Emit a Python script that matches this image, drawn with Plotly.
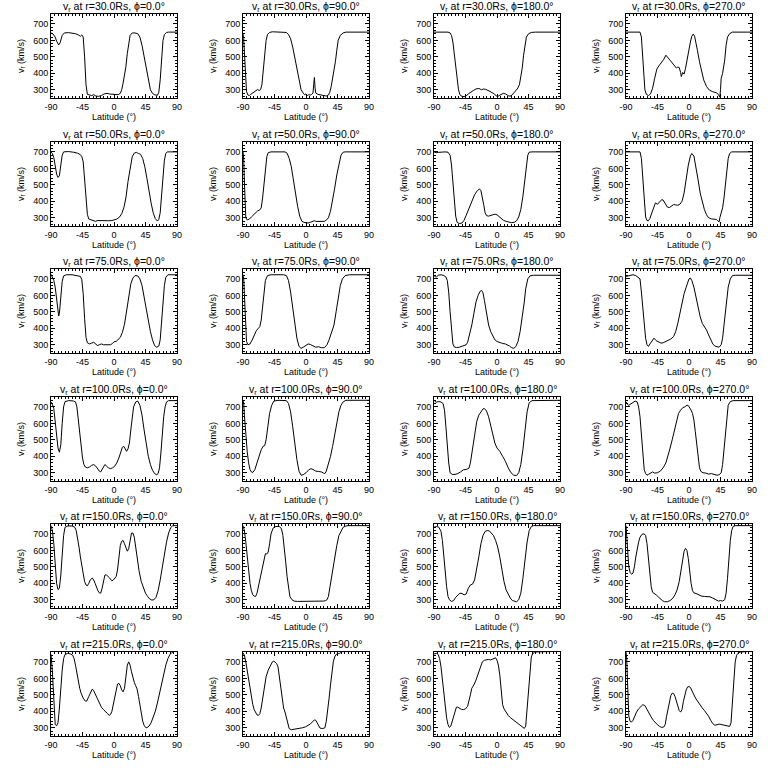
import plotly.graph_objects as go
from plotly.subplots import make_subplots

radii = [30.0, 50.0, 75.0, 100.0, 150.0, 215.0]
phis = [0.0, 90.0, 180.0, 270.0]
x_ticks = [-90, -45, 0, 45, 90]
y_ticks = [300, 400, 500, 600, 700]

# (latitude deg, v_r km/s)
pts_30_0 = [(-90,645),(-87,638),(-84,620),(-82,595),(-79,572),(-77,585),(-74,630),(-71,645),(-65,647),(-60,645),(-55,640),(-51,633),(-48,625),(-46,633),(-44,620),(-42,500),(-40,330),(-38,272),(-35,270),(-32,265),(-29,270),(-26,262),(-22,260),(-18,265),(-14,275),(-10,278),(-6,274),(-2,272),(2,272),(6,270),(9,278),(11,300),(13,340),(15,380),(17,440),(19,520),(21,590),(23,630),(26,645),(30,645),(34,640),(37,620),(40,570),(43,500),(46,420),(49,350),(52,300),(55,278),(58,270),(62,266),(64,285),(66,360),(68,500),(70,600),(72,635),(75,648),(78,650),(90,650)]
pts_30_90 = [(-90,640),(-89,610),(-88,530),(-87,430),(-86,340),(-85,290),(-83,268),(-81,265),(-79,272),(-76,282),(-73,292),(-71,298),(-69,302),(-67,295),(-65,300),(-63,330),(-61,420),(-59,520),(-57,600),(-55,635),(-52,648),(-48,652),(-40,652),(-32,652),(-28,648),(-25,635),(-22,610),(-19,560),(-16,490),(-13,420),(-10,350),(-7,300),(-4,280),(-2,270),(0,275),(2,265),(4,270),(6,268),(8,272),(10,280),(11,330),(12,375),(13,310),(14,280),(17,272),(21,270),(25,265),(29,262),(32,268),(34,285),(36,320),(39,390),(42,470),(44,540),(46,600),(49,630),(53,645),(57,650),(90,650)]
pts_30_180 = [(-90,650),(-80,652),(-70,650),(-67,645),(-65,630),(-63,590),(-61,520),(-59,440),(-57,360),(-55,300),(-53,270),(-50,260),(-47,258),(-44,262),(-41,275),(-38,285),(-34,295),(-30,305),(-26,308),(-22,300),(-19,305),(-16,302),(-13,298),(-10,290),(-7,282),(-4,276),(-1,262),(1,258),(3,265),(6,272),(9,278),(12,275),(14,268),(17,262),(20,262),(23,275),(26,290),(29,305),(32,330),(34,370),(36,430),(38,510),(40,580),(42,620),(45,640),(49,648),(55,650),(90,650)]
pts_30_270 = [(-90,650),(-80,650),(-70,650),(-68,620),(-67,560),(-65,420),(-63,300),(-61,272),(-58,265),(-55,275),(-52,310),(-49,370),(-46,425),(-43,445),(-40,460),(-36,485),(-33,510),(-30,495),(-27,475),(-24,460),(-21,445),(-18,432),(-16,438),(-14,435),(-12,405),(-11,380),(-9,405),(-7,395),(-5,430),(-3,480),(0,540),(2,590),(4,625),(6,638),(8,625),(10,590),(12,540),(15,470),(18,410),(21,360),(25,320),(29,298),(34,288),(39,282),(42,272),(44,255),(45,300),(46,370),(48,400),(51,480),(53,570),(55,620),(58,640),(62,650),(90,650)]

pts_50_0 = [(-90,700),(-88,690),(-86,665),(-84,620),(-82,565),(-80,545),(-78,555),(-76,620),(-74,680),(-72,700),(-65,702),(-58,698),(-52,692),(-48,683),(-46,672),(-44,640),(-42,540),(-40,420),(-38,320),(-36,292),(-33,287),(-30,285),(-28,280),(-26,278),(-24,283),(-20,282),(-15,282),(-8,282),(-3,283),(0,286),(4,292),(8,305),(11,325),(14,360),(17,420),(20,520),(23,610),(26,670),(29,693),(32,697),(35,690),(38,685),(41,660),(44,610),(47,540),(50,460),(53,390),(56,330),(59,295),(62,280),(64,290),(66,330),(68,430),(70,560),(72,650),(74,690),(76,700),(90,700)]
pts_50_90 = [(-90,700),(-89,660),(-88,520),(-87,380),(-86,300),(-84,287),(-81,292),(-78,305),(-75,318),(-72,332),(-69,342),(-66,348),(-64,360),(-62,420),(-60,520),(-58,610),(-56,670),(-54,695),(-50,700),(-40,700),(-30,700),(-27,692),(-24,660),(-21,610),(-18,540),(-15,450),(-12,370),(-9,310),(-6,280),(-3,272),(0,270),(3,268),(6,272),(9,278),(12,282),(14,278),(18,277),(22,278),(26,278),(29,285),(32,300),(35,340),(38,400),(41,480),(44,560),(47,630),(50,680),(53,698),(56,700),(90,700)]
pts_50_180 = [(-90,700),(-87,695),(-84,697),(-80,700),(-74,700),(-70,698),(-67,680),(-65,620),(-63,520),(-61,400),(-59,310),(-57,272),(-54,265),(-50,268),(-47,285),(-44,315),(-40,355),(-36,400),(-32,440),(-28,465),(-25,475),(-23,465),(-21,430),(-19,380),(-17,330),(-15,313),(-12,310),(-9,315),(-6,320),(-3,322),(0,318),(3,305),(6,295),(9,285),(13,278),(17,272),(21,270),(25,273),(28,282),(31,305),(34,350),(37,430),(40,540),(42,620),(44,680),(46,698),(50,700),(90,700)]
pts_50_270 = [(-90,700),(-80,700),(-70,700),(-68,660),(-66,520),(-64,380),(-62,305),(-60,283),(-58,282),(-56,295),(-53,335),(-50,375),(-48,390),(-45,382),(-42,395),(-39,410),(-37,408),(-34,385),(-31,365),(-28,362),(-25,370),(-22,380),(-19,378),(-16,376),(-13,382),(-10,400),(-7,450),(-4,540),(-1,620),(2,675),(4,690),(7,675),(10,610),(13,530),(16,450),(19,395),(22,350),(25,318),(28,300),(32,293),(36,292),(39,290),(41,282),(43,275),(44,300),(46,330),(48,360),(50,420),(52,510),(54,600),(56,660),(58,690),(61,700),(90,700)]

pts_75_0 = [(-90,728),(-88,712),(-86,690),(-84,650),(-82,565),(-80,495),(-79,475),(-78,490),(-76,590),(-74,685),(-72,718),(-68,725),(-60,725),(-52,720),(-48,715),(-46,695),(-44,610),(-42,460),(-40,345),(-38,312),(-35,305),(-32,310),(-29,315),(-26,305),(-24,295),(-21,300),(-18,305),(-15,300),(-10,300),(-5,300),(-2,308),(0,318),(3,320),(6,332),(9,345),(12,375),(15,425),(18,505),(21,600),(24,670),(27,705),(30,720),(34,718),(37,700),(40,660),(43,590),(46,510),(49,440),(52,380),(55,330),(58,295),(61,285),(64,292),(66,330),(68,440),(70,570),(72,660),(74,710),(77,725),(90,725)]
pts_75_90 = [(-90,725),(-89,700),(-88,610),(-87,480),(-86,380),(-85,320),(-83,300),(-80,305),(-77,328),(-74,355),(-71,385),(-68,400),(-66,410),(-64,450),(-62,540),(-60,620),(-58,690),(-55,720),(-50,725),(-40,725),(-32,725),(-28,720),(-25,690),(-22,620),(-19,520),(-16,420),(-13,340),(-10,290),(-7,278),(-4,285),(0,295),(3,305),(6,302),(10,292),(14,285),(18,288),(22,282),(26,282),(30,300),(33,330),(36,370),(40,420),(43,500),(46,590),(49,660),(52,700),(56,720),(62,725),(90,725)]
pts_75_180 = [(-90,720),(-87,710),(-84,722),(-80,725),(-76,720),(-73,712),(-71,690),(-69,620),(-67,500),(-65,380),(-63,305),(-61,287),(-58,283),(-54,285),(-50,292),(-47,296),(-44,300),(-42,315),(-39,360),(-36,420),(-33,490),(-30,560),(-27,600),(-24,625),(-22,630),(-20,615),(-18,570),(-15,490),(-12,420),(-9,380),(-6,350),(-3,330),(0,320),(4,312),(8,308),(12,305),(15,300),(18,292),(21,282),(24,278),(27,290),(30,320),(33,380),(36,460),(39,560),(41,640),(44,700),(47,718),(52,722),(90,722)]
pts_75_270 = [(-90,715),(-85,722),(-80,725),(-76,720),(-73,712),(-70,700),(-68,620),(-66,520),(-64,420),(-62,340),(-60,300),(-58,290),(-55,310),(-52,330),(-50,340),(-47,325),(-44,320),(-40,310),(-37,312),(-34,318),(-30,325),(-26,335),(-22,350),(-19,380),(-16,430),(-13,490),(-10,560),(-7,610),(-4,650),(-2,680),(0,700),(2,705),(4,690),(7,650),(10,590),(13,520),(16,470),(19,430),(22,410),(25,390),(28,360),(31,330),(34,305),(37,292),(40,288),(43,285),(46,300),(48,340),(50,420),(53,540),(56,650),(59,700),(62,720),(66,722),(90,722)]

pts_100_0 = [(-90,730),(-88,715),(-86,690),(-84,620),(-82,520),(-80,450),(-78,425),(-76,470),(-74,600),(-72,700),(-70,732),(-65,738),(-58,736),(-55,730),(-53,700),(-51,620),(-49,530),(-47,450),(-45,390),(-43,350),(-41,335),(-38,330),(-35,335),(-32,345),(-29,350),(-26,340),(-23,320),(-21,310),(-19,305),(-17,320),(-15,340),(-13,350),(-11,342),(-8,330),(-5,325),(-2,330),(1,340),(4,360),(7,390),(10,430),(12,455),(14,460),(16,440),(18,430),(20,445),(22,480),(24,560),(26,640),(28,700),(31,730),(34,735),(37,710),(40,650),(43,560),(46,470),(49,400),(52,350),(55,315),(58,295),(61,288),(63,295),(65,330),(67,420),(69,540),(71,640),(73,700),(75,730),(78,738),(90,738)]
pts_100_90 = [(-90,740),(-89,720),(-88,650),(-86,530),(-84,430),(-82,360),(-80,320),(-78,305),(-76,302),(-73,320),(-70,360),(-67,400),(-64,440),(-61,462),(-59,465),(-57,500),(-55,580),(-52,660),(-49,710),(-46,735),(-40,740),(-33,740),(-28,738),(-25,720),(-22,670),(-19,580),(-16,470),(-13,380),(-10,310),(-7,285),(-4,288),(0,300),(4,318),(7,325),(10,320),(14,310),(18,308),(22,305),(25,298),(27,295),(29,310),(32,350),(35,400),(38,460),(41,530),(44,600),(47,670),(50,710),(53,730),(57,740),(90,740)]
pts_100_180 = [(-90,740),(-87,728),(-84,732),(-80,730),(-77,720),(-75,680),(-73,580),(-71,460),(-69,360),(-67,300),(-64,290),(-60,290),(-56,295),(-52,305),(-48,318),(-44,320),(-40,328),(-38,360),(-35,440),(-32,540),(-29,610),(-26,650),(-23,670),(-20,688),(-18,690),(-15,675),(-12,640),(-9,590),(-6,530),(-3,480),(0,450),(4,430),(8,400),(12,370),(16,330),(20,300),(24,285),(28,283),(31,300),(34,350),(37,440),(40,560),(43,670),(46,725),(50,738),(90,740)]
pts_100_270 = [(-90,730),(-88,715),(-86,710),(-83,720),(-80,730),(-77,735),(-74,730),(-72,700),(-70,640),(-68,520),(-66,400),(-64,320),(-62,295),(-60,285),(-58,290),(-55,300),(-52,305),(-49,298),(-45,300),(-41,310),(-37,330),(-33,360),(-30,400),(-27,450),(-24,500),(-21,560),(-18,620),(-15,660),(-12,680),(-9,695),(-6,700),(-3,710),(-1,708),(1,695),(3,680),(5,660),(7,620),(9,550),(11,470),(13,390),(15,330),(17,308),(20,300),(24,298),(28,292),(32,295),(36,290),(40,285),(43,288),(46,300),(48,350),(50,450),(52,560),(54,650),(56,710),(59,732),(63,738),(90,738)]

pts_150_0 = [(-90,750),(-88,720),(-86,640),(-84,520),(-82,400),(-80,362),(-78,370),(-76,450),(-74,580),(-72,690),(-70,740),(-66,748),(-60,748),(-56,740),(-54,720),(-52,680),(-50,620),(-48,560),(-46,500),(-44,450),(-42,410),(-40,390),(-38,385),(-36,400),(-34,420),(-31,432),(-29,420),(-27,400),(-25,375),(-23,355),(-21,342),(-19,340),(-17,370),(-15,420),(-13,450),(-11,452),(-9,445),(-7,435),(-5,425),(-3,415),(-1,420),(1,430),(3,440),(5,480),(7,570),(9,630),(11,655),(13,660),(15,640),(17,610),(19,595),(21,610),(23,670),(25,705),(27,705),(29,680),(31,620),(33,550),(36,470),(39,410),(42,370),(45,340),(48,320),(51,305),(54,298),(57,300),(60,315),(63,355),(66,420),(69,500),(72,580),(75,650),(78,705),(81,738),(84,750),(90,750)]
pts_150_90 = [(-90,750),(-88,720),(-86,650),(-84,560),(-82,470),(-80,400),(-78,355),(-76,330),(-74,322),(-72,320),(-70,340),(-67,400),(-64,470),(-61,540),(-58,580),(-56,578),(-54,590),(-52,640),(-50,700),(-47,735),(-43,745),(-38,745),(-35,730),(-33,690),(-31,620),(-29,530),(-27,440),(-25,370),(-23,320),(-20,300),(-17,292),(-12,290),(-6,290),(0,290),(5,293),(10,290),(15,290),(20,292),(25,292),(28,295),(30,300),(32,320),(35,400),(38,480),(41,560),(44,630),(47,690),(50,720),(53,740),(57,748),(60,750),(90,750)]
pts_150_180 = [(-90,740),(-86,745),(-83,740),(-80,715),(-78,660),(-76,560),(-74,460),(-72,380),(-70,320),(-68,300),(-65,290),(-62,295),(-59,315),(-56,330),(-53,340),(-50,338),(-47,330),(-44,335),(-41,370),(-38,390),(-35,395),(-32,420),(-29,480),(-26,560),(-23,640),(-20,690),(-17,715),(-14,720),(-11,718),(-8,705),(-5,690),(-2,660),(1,620),(4,560),(7,480),(10,410),(13,360),(16,330),(19,310),(22,295),(25,290),(28,288),(31,300),(34,340),(37,430),(40,540),(43,650),(46,720),(49,745),(52,750),(90,750)]
pts_150_270 = [(-90,750),(-89,700),(-88,600),(-86,500),(-84,465),(-82,455),(-80,462),(-78,500),(-76,560),(-74,610),(-72,650),(-70,680),(-67,698),(-64,700),(-62,690),(-60,640),(-58,560),(-56,460),(-54,380),(-52,345),(-50,340),(-47,330),(-44,318),(-41,305),(-38,295),(-35,288),(-31,288),(-27,295),(-23,310),(-20,330),(-17,360),(-14,410),(-11,480),(-9,550),(-7,595),(-5,612),(-3,600),(-1,550),(1,470),(3,400),(5,355),(7,342),(10,338),(14,330),(18,322),(22,320),(26,320),(30,318),(34,310),(38,300),(42,292),(45,295),(48,292),(51,300),(53,340),(55,430),(57,560),(59,660),(61,720),(63,745),(66,750),(90,750)]

pts_215_0 = [(-90,745),(-89,700),(-88,640),(-87,560),(-86,460),(-85,370),(-84,320),(-82,312),(-80,330),(-78,420),(-76,550),(-74,650),(-72,720),(-70,745),(-66,752),(-62,748),(-59,740),(-57,720),(-55,680),(-53,630),(-51,580),(-49,540),(-47,510),(-44,480),(-41,462),(-39,462),(-36,490),(-33,520),(-31,535),(-29,525),(-27,505),(-24,480),(-21,450),(-18,425),(-15,410),(-12,400),(-9,385),(-7,375),(-5,380),(-3,400),(-1,440),(1,490),(3,540),(5,565),(7,570),(9,555),(11,530),(13,518),(15,540),(17,620),(19,680),(21,700),(23,680),(25,640),(27,600),(29,575),(31,555),(33,535),(35,490),(37,430),(39,380),(41,340),(43,315),(45,302),(47,300),(50,310),(53,330),(56,360),(59,400),(62,450),(65,510),(68,570),(71,630),(74,680),(77,720),(80,745),(83,758),(86,765),(90,770)]
pts_215_90 = [(-90,755),(-88,740),(-86,700),(-84,650),(-82,590),(-80,530),(-78,480),(-76,440),(-74,410),(-72,390),(-70,378),(-68,375),(-66,385),(-64,420),(-62,480),(-60,550),(-57,610),(-54,650),(-51,680),(-48,700),(-46,705),(-44,700),(-42,690),(-40,670),(-38,610),(-36,520),(-34,460),(-32,420),(-30,395),(-28,360),(-26,320),(-24,295),(-21,288),(-17,290),(-13,292),(-9,295),(-5,300),(-1,305),(3,315),(6,322),(9,335),(12,348),(14,345),(16,330),(18,310),(20,298),(24,295),(27,300),(29,340),(31,400),(33,480),(35,560),(37,640),(39,700),(41,730),(43,745),(46,750),(48,752),(52,762),(90,770)]
pts_215_180 = [(-90,748),(-88,752),(-86,752),(-84,745),(-82,720),(-80,670),(-78,590),(-76,500),(-74,420),(-72,360),(-70,320),(-68,302),(-66,310),(-64,340),(-62,380),(-60,410),(-58,425),(-56,425),(-54,418),(-51,412),(-48,410),(-45,415),(-42,430),(-40,460),(-38,500),(-36,540),(-33,560),(-30,590),(-27,630),(-24,670),(-21,700),(-18,710),(-15,712),(-12,715),(-9,712),(-6,718),(-4,722),(-2,725),(0,710),(2,680),(4,620),(6,530),(8,440),(10,415),(13,390),(16,375),(19,362),(22,352),(25,342),(28,332),(31,320),(34,310),(37,300),(39,296),(41,310),(43,420),(45,560),(47,670),(49,730),(51,750),(54,760),(90,765)]
pts_215_270 = [(-90,760),(-89,720),(-88,600),(-87,450),(-86,370),(-84,338),(-82,335),(-80,345),(-78,370),(-75,395),(-72,415),(-69,430),(-66,440),(-63,435),(-60,410),(-57,385),(-54,365),(-51,345),(-48,330),(-45,318),(-42,308),(-39,302),(-36,305),(-34,320),(-32,370),(-30,420),(-28,460),(-26,495),(-24,510),(-22,508),(-20,490),(-18,460),(-16,430),(-14,405),(-12,395),(-10,410),(-8,460),(-6,500),(-4,530),(-2,548),(0,550),(2,545),(4,530),(7,500),(10,475),(13,455),(16,440),(19,420),(22,405),(25,390),(28,370),(31,345),(34,325),(37,315),(40,318),(43,322),(46,320),(49,318),(52,312),(55,310),(58,308),(60,330),(62,450),(64,600),(66,700),(68,740),(70,752),(73,760),(90,765)]

grid = [
    [pts_30_0, pts_30_90, pts_30_180, pts_30_270],
    [pts_50_0, pts_50_90, pts_50_180, pts_50_270],
    [pts_75_0, pts_75_90, pts_75_180, pts_75_270],
    [pts_100_0, pts_100_90, pts_100_180, pts_100_270],
    [pts_150_0, pts_150_90, pts_150_180, pts_150_270],
    [pts_215_0, pts_215_90, pts_215_180, pts_215_270],
]

W = H = 768
col_left = [51, 243, 434, 626]
row_top = [14, 142, 269, 397, 524, 652]
pw, ph = 126, 84

FONT = "Liberation Sans"
fig = make_subplots(rows=6, cols=4)
annotations = []
for i, r in enumerate(radii):
    for j, p in enumerate(phis):
        pts = grid[i][j]
        lat = [a for a, b in pts]
        v = [b for a, b in pts]
        fig.add_trace(go.Scatter(x=lat, y=v, mode="lines",
                                 line=dict(color="black", width=1),
                                 showlegend=False, hoverinfo="skip"),
                      row=i + 1, col=j + 1)
        k = i * 4 + j + 1
        xn = "xaxis" if k == 1 else f"xaxis{k}"
        yn = "yaxis" if k == 1 else f"yaxis{k}"
        x0 = col_left[j] / W
        x1 = (col_left[j] + pw) / W
        y1 = 1 - row_top[i] / H
        y0 = 1 - (row_top[i] + ph) / H
        common = dict(showline=True, linecolor="black", linewidth=1, mirror="allticks",
                      ticks="inside", ticklen=4, tickcolor="black", tickwidth=1,
                      showgrid=False, zeroline=False, automargin=False,
                      tickfont=dict(family=FONT, size=9, color="black"))
        fig.layout[xn].update(domain=[x0, x1], range=[-90, 90], tickmode="array",
                              tickvals=x_ticks, ticktext=[str(t) for t in x_ticks],
                              minor=dict(dtick=5, ticks="inside", ticklen=2, tickcolor="black", showgrid=False),
                              title=dict(text="Latitude (°)", standoff=1,
                                         font=dict(family=FONT, size=9, color="black")),
                              **common)
        fig.layout[yn].update(domain=[y0, y1], range=[250, 760], tickmode="array",
                              tickvals=y_ticks, ticktext=[str(t) for t in y_ticks],
                              minor=dict(dtick=20, ticks="inside", ticklen=2, tickcolor="black", showgrid=False),
                              title=dict(text="v<sub>r</sub> (km/s)", standoff=7,
                                         font=dict(family=FONT, size=9, color="black")),
                              **common)
        annotations.append(dict(text=f"v<sub>r</sub> at r={r:.1f}Rs, ϕ={p:.1f}°",
                                x=(x0 + x1) / 2, y=y1 + 7 / H, xref="paper", yref="paper",
                                xanchor="center", yanchor="middle", showarrow=False,
                                borderpad=0,
                                font=dict(family=FONT, size=10.5, color="black")))

fig.update_layout(template="none", width=W, height=H, margin=dict(l=0, r=0, t=0, b=0, autoexpand=False),
                  paper_bgcolor="white", plot_bgcolor="white",
                  annotations=annotations, showlegend=False)
fig.write_html("out.html", config={"displayModeBar": False},
               post_script="document.body.style.margin='0px';")
